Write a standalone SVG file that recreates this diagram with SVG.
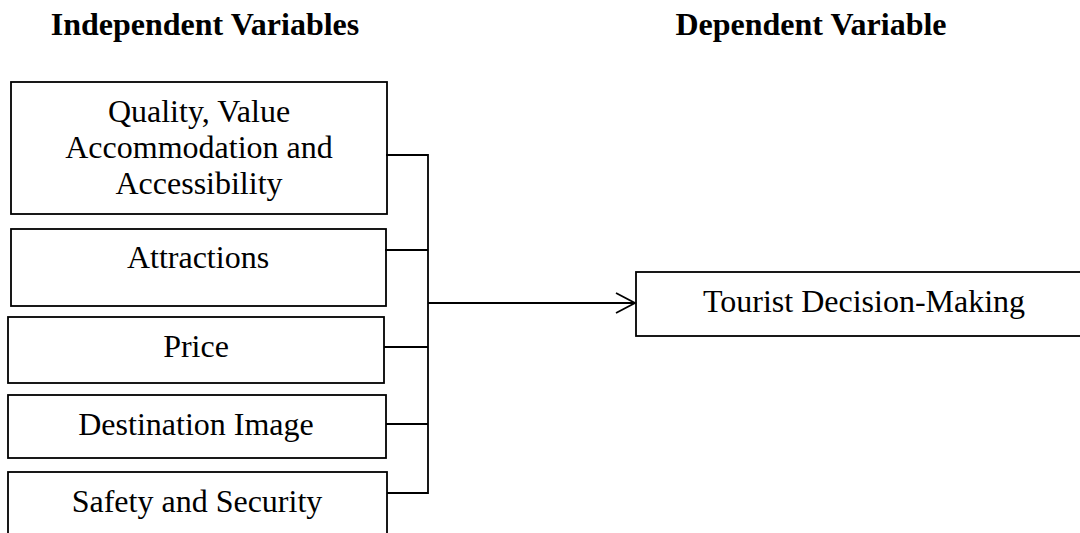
<svg xmlns="http://www.w3.org/2000/svg" width="1080" height="533" viewBox="0 0 1080 533">
<style>
.box{fill:#fff;stroke:#000;stroke-width:1.8}
.t{font-family:"Liberation Serif","Times New Roman",serif;font-size:32px;fill:#000;text-anchor:middle}
.h{font-family:"Liberation Serif","Times New Roman",serif;font-size:32px;font-weight:bold;fill:#000;text-anchor:middle}
.c{fill:none;stroke:#000;stroke-width:1.8}
</style>
<defs>
<marker id="arr" markerWidth="24" markerHeight="26" refX="20" refY="11" orient="auto" markerUnits="userSpaceOnUse">
<path d="M1,1 L20,11 L1,21" fill="none" stroke="#000" stroke-width="1.8"/>
</marker>
</defs>
<rect width="1080" height="533" fill="#fff"/>
<text class="h" x="205" y="35">Independent Variables</text>
<text class="h" x="811" y="35">Dependent Variable</text>
<g id="n1"><rect class="box" x="11" y="82" width="376" height="132"/>
<text class="t" x="199" y="122">Quality, Value</text>
<text class="t" x="199" y="158">Accommodation and</text>
<text class="t" x="199" y="194">Accessibility</text></g>
<g id="n2"><rect class="box" x="11" y="229" width="375" height="77"/>
<text class="t" x="198" y="268">Attractions</text></g>
<g id="n3"><rect class="box" x="8" y="317" width="376" height="66"/>
<text class="t" x="196" y="357">Price</text></g>
<g id="n4"><rect class="box" x="8" y="395" width="378" height="63"/>
<text class="t" x="196" y="435">Destination Image</text></g>
<g id="n5"><rect class="box" x="8" y="472" width="379" height="70"/>
<text class="t" x="197" y="512">Safety and Security</text></g>
<g id="n6"><rect class="box" x="636" y="272" width="460" height="64"/>
<text class="t" x="864" y="312">Tourist Decision-Making</text></g>
<g id="connectors">
<path class="c" d="M386,155 H428 V493 H387"/>
<path class="c" d="M385,250 H428"/>
<path class="c" d="M384,347 H428"/>
<path class="c" d="M386,424 H428"/>
<path class="c" d="M428,303 H635" marker-end="url(#arr)"/>
</g>
</svg>
